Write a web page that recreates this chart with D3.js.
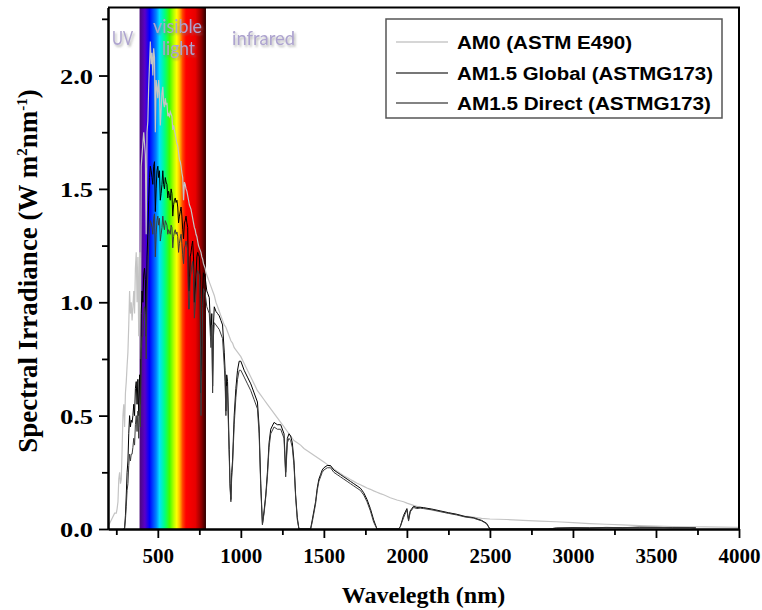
<!DOCTYPE html>
<html><head><meta charset="utf-8">
<script src="https://cdn.jsdelivr.net/npm/d3@7"></script>
<style>body{margin:0;background:#fff}</style>
</head><body>
<svg id="chart" width="762" height="610"></svg>
<script>
// ---------- data ----------
const seriesNames = ["AM0 (ASTM E490)", "AM1.5 Global (ASTMG173)", "AM1.5 Direct (ASTMG173)"];
const regionLabels = ["UV", "visible", "light", "infrared"];
const visibleBand = [390, 790];
const xMajorTicks = [500, 1000, 1500, 2000, 2500, 3000, 3500, 4000];
const xMinorTicks = [250, 750, 1250, 1750, 2250, 2750, 3250, 3750];
const yMajorTicks = [0, 0.5, 1.0, 1.5, 2.0];
const yMinorTicks = [0.25, 0.75, 1.25, 1.75, 2.25];

const am0 = [[200,0.01],[220,0.04],[240,0.07],[250,0.07],[255,0.09],[260,0.12],[265,0.22],[270,0.25],[275,0.2],[280,0.22],[285,0.35],[290,0.5],[295,0.55],[300,0.45],[305,0.6],[310,0.65],[315,0.72],[320,0.78],[325,0.9],[330,1.05],[335,0.95],[340,1.0],[345,0.92],[350,0.98],[355,1.05],[360,0.95],[365,1.15],[370,1.22],[375,1.0],[380,1.2],[385,0.85],[390,1.22],[395,0.75],[400,1.6],[405,1.65],[410,1.7],[415,1.75],[420,1.7],[425,1.65],[430,1.3],[435,1.75],[440,1.8],[445,1.95],[450,2.05],[455,2.15],[460,2.05],[465,2.1],[470,2.0],[475,2.12],[480,2.08],[485,1.75],[490,1.98],[495,1.95],[500,1.9],[505,1.98],[510,1.92],[515,1.78],[520,1.85],[525,1.92],[530,1.95],[535,1.88],[540,1.86],[545,1.9],[550,1.87],[555,1.88],[560,1.82],[565,1.83],[570,1.82],[575,1.84],[580,1.83],[585,1.82],[590,1.76],[595,1.78],[600,1.76],[605,1.74],[610,1.72],[615,1.7],[620,1.69],[625,1.66],[630,1.63],[635,1.62],[640,1.6],[645,1.57],[650,1.55],[655,1.45],[660,1.53],[665,1.52],[670,1.5],[675,1.49],[680,1.47],[685,1.45],[690,1.43],[695,1.42],[700,1.41],[705,1.39],[710,1.37],[715,1.35],[720,1.33],[725,1.32],[730,1.3],[735,1.29],[740,1.27],[745,1.25],[750,1.24],[755,1.23],[760,1.22],[765,1.2],[770,1.19],[775,1.17],[780,1.16],[785,1.15],[790,1.13],[795,1.12],[800,1.11],
[810,1.09],[820,1.07],[830,1.05],[840,1.03],[850,1.0],[860,0.98],[870,0.96],[880,0.94],[890,0.92],[900,0.9],[910,0.89],[920,0.87],[930,0.85],[940,0.83],[950,0.82],[960,0.8],[970,0.79],[980,0.78],[990,0.77],[1000,0.76],[1020,0.73],[1040,0.7],[1060,0.67],[1080,0.64],[1100,0.61],[1120,0.59],[1140,0.57],[1160,0.55],[1180,0.53],[1200,0.51],[1220,0.49],[1240,0.47],[1260,0.45],[1280,0.43],[1300,0.41],[1320,0.39],[1340,0.38],[1360,0.37],[1380,0.355],[1400,0.345],[1420,0.335],[1440,0.325],[1460,0.315],[1480,0.305],[1500,0.295],[1520,0.285],[1540,0.275],[1560,0.265],[1580,0.255],[1600,0.245],[1620,0.235],[1640,0.227],[1660,0.218],[1680,0.21],[1700,0.202],[1720,0.195],[1740,0.188],[1760,0.181],[1780,0.175],[1800,0.168],[1820,0.162],[1840,0.156],[1860,0.151],[1900,0.138],[1940,0.128],[1980,0.12],[2000,0.114],[2040,0.104],[2080,0.096],[2100,0.093],[2150,0.083],[2200,0.076],[2250,0.07],[2300,0.064],[2350,0.057],[2400,0.052],[2450,0.047],[2500,0.044],[2600,0.042],[2700,0.038],[2800,0.035],[2900,0.032],[3000,0.028],[3100,0.024],[3200,0.021],[3300,0.018],[3400,0.015],[3500,0.013],[3600,0.011],[3700,0.01],[3800,0.009],[3900,0.008],[4000,0.007]];

const globalAM15 = [[295,0.0],[300,0.005],[305,0.06],[310,0.15],[315,0.25],[320,0.3],[325,0.42],[330,0.5],[335,0.45],[340,0.48],[345,0.47],[350,0.5],[355,0.55],[360,0.5],[365,0.62],[370,0.65],[375,0.55],[380,0.66],[385,0.5],[390,0.68],[395,0.55],[400,0.95],[405,1.05],[410,1.0],[415,1.12],[420,1.15],[425,1.1],[430,0.85],[435,1.2],[440,1.3],[445,1.45],[450,1.55],[455,1.6],[460,1.58],[465,1.55],[470,1.52],[475,1.6],[480,1.62],[485,1.4],[490,1.5],[495,1.58],[500,1.6],[505,1.55],[510,1.58],[515,1.45],[520,1.48],[525,1.52],[530,1.58],[535,1.52],[540,1.5],[545,1.55],[550,1.53],[555,1.52],[560,1.46],[565,1.49],[570,1.47],[575,1.45],[580,1.5],[585,1.48],[590,1.38],[595,1.43],[600,1.45],[605,1.46],[610,1.44],[615,1.45],[620,1.42],[625,1.35],[630,1.38],[635,1.4],[640,1.42],[645,1.38],[650,1.32],[655,1.28],[660,1.35],[665,1.36],[670,1.38],[675,1.35],[680,1.33],[685,1.05],[690,1.05],[695,1.2],[700,1.22],[705,1.25],[710,1.27],[715,1.2],[720,1.0],[725,1.05],[730,1.12],[735,1.2],[740,1.22],[745,1.21],[750,1.2],[755,1.1],[760,0.6],[765,0.8],[770,1.05],[775,1.13],[780,1.12],[785,1.11],[790,1.08],[795,1.05],[800,1.04],
[810,1.02],[820,0.85],[825,0.95],[830,0.63],[835,0.9],[840,0.98],[850,0.96],[860,0.95],[870,0.94],[880,0.92],[890,0.9],[900,0.78],[905,0.7],[910,0.52],[915,0.68],[920,0.65],[930,0.35],[935,0.2],[940,0.13],[945,0.25],[950,0.3],[960,0.5],[970,0.62],[980,0.7],[990,0.74],[1000,0.74],[1020,0.7],[1040,0.67],[1060,0.64],[1080,0.6],[1100,0.56],[1110,0.45],[1120,0.2],[1130,0.02],[1140,0.08],[1150,0.15],[1160,0.25],[1170,0.38],[1180,0.44],[1200,0.47],[1220,0.46],[1240,0.46],[1260,0.42],[1270,0.25],[1280,0.4],[1290,0.42],[1300,0.41],[1310,0.38],[1320,0.3],[1330,0.15],[1340,0.05],[1350,0.0],[1420,0.0],[1430,0.04],[1440,0.08],[1450,0.12],[1460,0.18],[1470,0.22],[1480,0.24],[1490,0.26],[1500,0.27],[1520,0.28],[1540,0.28],[1560,0.26],[1580,0.25],[1600,0.24],[1620,0.23],[1640,0.22],[1660,0.21],[1680,0.2],[1700,0.19],[1720,0.18],[1740,0.16],[1760,0.13],[1780,0.09],[1800,0.04],[1820,0.0],[1950,0.0],[1960,0.01],[1980,0.06],[2000,0.09],[2010,0.04],[2020,0.08],[2040,0.1],[2060,0.095],[2080,0.096],[2100,0.094],[2150,0.088],[2200,0.08],[2250,0.072],[2300,0.065],[2350,0.055],[2400,0.05],[2450,0.038],[2480,0.025],[2500,0.0],[2850,0.0],[2900,0.004],[3000,0.006],[3100,0.005],[3200,0.007],[3300,0.006],[3400,0.008],[3500,0.007],[3600,0.006],[3700,0.006],[3740,0.005]];

const directAM15 = [[295,0.0],[300,0.003],[305,0.04],[310,0.1],[315,0.17],[320,0.2],[325,0.28],[330,0.33],[335,0.3],[340,0.33],[345,0.33],[350,0.36],[355,0.4],[360,0.37],[365,0.46],[370,0.5],[375,0.43],[380,0.52],[385,0.4],[390,0.55],[395,0.45],[400,0.78],[405,0.85],[410,0.85],[415,0.95],[420,0.98],[425,0.95],[430,0.75],[435,1.05],[440,1.12],[445,1.25],[450,1.32],[455,1.36],[460,1.35],[465,1.33],[470,1.3],[475,1.37],[480,1.39],[485,1.2],[490,1.3],[495,1.36],[500,1.38],[505,1.34],[510,1.37],[515,1.27],[520,1.3],[525,1.33],[530,1.38],[535,1.34],[540,1.32],[545,1.36],[550,1.35],[555,1.34],[560,1.3],[565,1.32],[570,1.31],[575,1.3],[580,1.34],[585,1.33],[590,1.24],[595,1.29],[600,1.31],[605,1.32],[610,1.3],[615,1.31],[620,1.29],[625,1.22],[630,1.26],[635,1.28],[640,1.3],[645,1.26],[650,1.21],[655,1.17],[660,1.24],[665,1.25],[670,1.27],[675,1.25],[680,1.23],[685,0.97],[690,0.97],[695,1.11],[700,1.13],[705,1.16],[710,1.18],[715,1.12],[720,0.93],[725,0.98],[730,1.04],[735,1.12],[740,1.14],[745,1.13],[750,1.12],[755,1.02],[760,0.5],[765,0.7],[770,0.98],[775,1.06],[780,1.05],[785,1.04],[790,1.01],[795,0.98],[800,0.97],
[810,0.95],[820,0.8],[825,0.9],[830,0.6],[835,0.85],[840,0.91],[850,0.9],[860,0.89],[870,0.88],[880,0.86],[890,0.84],[900,0.72],[905,0.65],[910,0.5],[915,0.63],[920,0.6],[930,0.32],[935,0.18],[940,0.12],[945,0.23],[950,0.28],[960,0.46],[970,0.58],[980,0.66],[990,0.7],[1000,0.7],[1020,0.67],[1040,0.64],[1060,0.61],[1080,0.57],[1100,0.53],[1110,0.42],[1120,0.18],[1130,0.02],[1140,0.07],[1150,0.14],[1160,0.23],[1170,0.36],[1180,0.42],[1200,0.45],[1220,0.44],[1240,0.44],[1260,0.4],[1270,0.23],[1280,0.38],[1290,0.4],[1300,0.39],[1310,0.36],[1320,0.28],[1330,0.14],[1340,0.04],[1350,0.0],[1420,0.0],[1430,0.03],[1440,0.07],[1450,0.11],[1460,0.17],[1470,0.21],[1480,0.23],[1490,0.25],[1500,0.26],[1520,0.27],[1540,0.27],[1560,0.25],[1580,0.24],[1600,0.23],[1620,0.22],[1640,0.21],[1660,0.2],[1680,0.19],[1700,0.18],[1720,0.17],[1740,0.15],[1760,0.12],[1780,0.08],[1800,0.03],[1820,0.0],[1950,0.0],[1960,0.01],[1980,0.05],[2000,0.085],[2010,0.035],[2020,0.075],[2040,0.095],[2060,0.09],[2080,0.092],[2100,0.09],[2150,0.085],[2200,0.077],[2250,0.069],[2300,0.062],[2350,0.053],[2400,0.048],[2450,0.036],[2480,0.023],[2500,0.0],[2850,0.0],[2900,0.004],[3000,0.005],[3100,0.005],[3200,0.006],[3300,0.006],[3400,0.007],[3500,0.007],[3600,0.006],[3700,0.006],[3740,0.005]];

// ---------- layout ----------
const svg = d3.select("#chart");
const L = 108, R = 739, T = 7.5, B = 529;
const x = d3.scaleLinear().domain([200, 4000]).range([L, R]);
const y = d3.scaleLinear().domain([0, 2.3]).range([B, T]);

const defs = svg.append("defs");
defs.append("clipPath").attr("id", "plotclip").append("rect")
  .attr("x", L).attr("y", T).attr("width", R - L).attr("height", B - T);
const grad = defs.append("linearGradient").attr("id", "spec").attr("x1", "0%").attr("x2", "100%").attr("y1", "0%").attr("y2", "0%");
const stops = [[0,"#4a0a7a"],[0.08,"#5a00c8"],[0.15,"#0000ff"],[0.25,"#0080ff"],[0.3,"#00e0ff"],[0.38,"#00ff80"],[0.45,"#40ff00"],[0.52,"#c0ff00"],[0.56,"#ffff00"],[0.6,"#ffc000"],[0.65,"#ff4000"],[0.7,"#ff0000"],[0.84,"#e80000"],[0.93,"#900000"],[1,"#2a0000"]];
stops.forEach(s => grad.append("stop").attr("offset", s[0]).attr("stop-color", s[1]));
const f = defs.append("filter").attr("id", "shadow").attr("x", "-20%").attr("y", "-20%").attr("width", "150%").attr("height", "160%");
f.append("feDropShadow").attr("dx", 1.5).attr("dy", 2).attr("stdDeviation", 1.3).attr("flood-color", "#777").attr("flood-opacity", 0.55);

// spectrum band
svg.append("rect").attr("x", x(visibleBand[0])).attr("y", y(2.3))
  .attr("width", x(visibleBand[1]) - x(visibleBand[0])).attr("height", y(0) - y(2.3))
  .attr("fill", "url(#spec)");

// region labels
const labelPos = [[112, 45, 21], [153, 33, 49], [162, 55, 33], [232, 45, 63]];
svg.append("g").selectAll("text").data(regionLabels).join("text")
  .attr("x", (d, i) => labelPos[i][0]).attr("y", (d, i) => labelPos[i][1])
  .attr("textLength", (d, i) => labelPos[i][2]).attr("lengthAdjust", "spacingAndGlyphs")
  .attr("font-family", "Lato, 'Open Sans', sans-serif").attr("font-size", 20)
  .attr("fill", "#ada3cf").attr("filter", "url(#shadow)").text(d => d);

// series
const line = d3.line().x(d => x(d[0])).y(d => y(d[1]));
const g = svg.append("g").attr("clip-path", "url(#plotclip)");
const series = [
  {data: am0, color: "#c4c4c4", w: 1.2},
  {data: globalAM15, color: "#000000", w: 1},
  {data: directAM15, color: "#3c3c3c", w: 1}
];
series.forEach(s => g.append("path").datum(s.data).attr("d", line)
  .attr("fill", "none").attr("stroke", s.color).attr("stroke-width", s.w).attr("stroke-linejoin", "miter"));

// axes
const serif = "'Liberation Serif', 'Times New Roman', serif";
function styleAxis(sel) {
  sel.select(".domain").attr("stroke", "#000").attr("stroke-width", 2);
  sel.selectAll(".tick line").attr("stroke", "#000").attr("stroke-width", 1.8);
  sel.selectAll("text").attr("font-family", serif).attr("font-weight", "bold").attr("font-size", 21).attr("fill", "#000");
}
const xa = svg.append("g").attr("transform", `translate(0,${B})`)
  .call(d3.axisBottom(x).tickValues(xMajorTicks).tickSize(9).tickSizeOuter(0).tickFormat(d3.format("d")));
styleAxis(xa);
xa.selectAll("text").attr("y", 34).attr("dy", 0);
const xm = svg.append("g").attr("transform", `translate(0,${B})`)
  .call(d3.axisBottom(x).tickValues(xMinorTicks).tickSize(6).tickSizeOuter(0).tickFormat(""));
styleAxis(xm);

const ya = svg.append("g").attr("transform", `translate(${L},0)`)
  .call(d3.axisLeft(y).tickValues(yMajorTicks).tickSize(9).tickSizeOuter(0).tickFormat(d3.format(".1f")));
styleAxis(ya);
ya.selectAll("text").attr("x", -15).attr("dy", "0.35em").attr("font-size", 22)
  .attr("textLength", 33).attr("lengthAdjust", "spacingAndGlyphs");
const ym = svg.append("g").attr("transform", `translate(${L},0)`)
  .call(d3.axisLeft(y).tickValues(yMinorTicks).tickSize(6).tickSizeOuter(0).tickFormat(""));
styleAxis(ym);

// frame top/right
svg.append("path").attr("d", `M${L},${T}H${R}V${B}`).attr("fill", "none").attr("stroke", "#000").attr("stroke-width", 2);

// axis titles
svg.append("text").attr("x", (L + R) / 2).attr("y", 603).attr("text-anchor", "middle")
  .attr("font-family", serif).attr("font-weight", "bold").attr("font-size", 24).text("Wavelegth (nm)");
const yt = svg.append("text").attr("transform", "translate(37,271) rotate(-90)").attr("text-anchor", "middle")
  .attr("font-family", serif).attr("font-weight", "bold").attr("font-size", 27);
yt.append("tspan").text("Spectral Irradiance (W m");
yt.append("tspan").attr("dy", -10).attr("font-size", 15).text("2");
yt.append("tspan").attr("dy", 10).text("nm");
yt.append("tspan").attr("dy", -10).attr("font-size", 15).text("-1");
yt.append("tspan").attr("dy", 10).text(")");

// legend
const lg = svg.append("g");
lg.append("rect").attr("x", 386).attr("y", 19).attr("width", 336).attr("height", 99)
  .attr("fill", "#fff").attr("stroke", "#555").attr("stroke-width", 1.5);
const legendRows = [42, 73, 103];
const legendWidths = [175, 256, 254];
const legendColors = ["#c8c8c8", "#4a4a4a", "#5a5a5a"];
seriesNames.forEach((n, i) => {
  lg.append("line").attr("x1", 396).attr("x2", 448).attr("y1", legendRows[i]).attr("y2", legendRows[i])
    .attr("stroke", legendColors[i]).attr("stroke-width", 1.5);
  lg.append("text").attr("x", 457).attr("y", legendRows[i] + 6.5)
    .attr("font-family", "'Liberation Sans', Arial, sans-serif").attr("font-weight", "bold").attr("font-size", 18)
    .attr("textLength", legendWidths[i]).attr("lengthAdjust", "spacingAndGlyphs").text(n);
});
</script>
</body></html>
